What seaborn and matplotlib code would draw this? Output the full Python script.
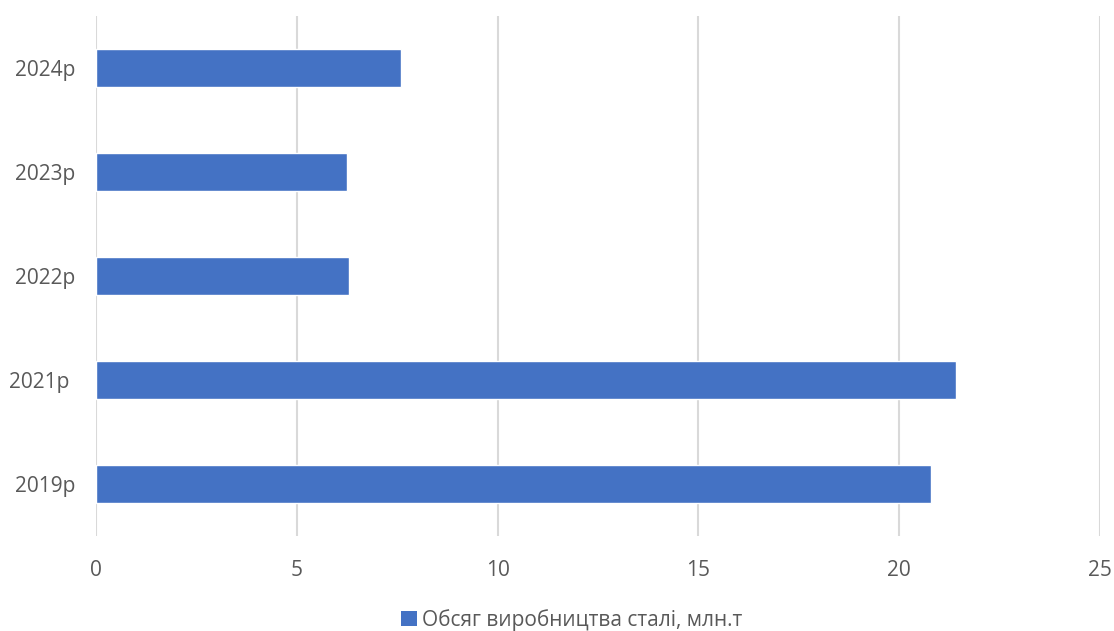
import matplotlib
matplotlib.use("Agg")
import matplotlib.pyplot as plt
import seaborn as sns
import pandas as pd
from matplotlib.patches import Patch

categories = ["2024р", "2023р", "2022р", "2021р ", "2019р"]
values = [7.6, 6.24, 6.31, 21.41, 20.8]
series_name = "Обсяг виробництва сталі, млн.т"
x_ticks = [0, 5, 10, 15, 20, 25]

sns.set_theme(style="white")
plt.rcParams['font.family'] = ['Open Sans', 'DejaVu Sans']

df = pd.DataFrame({"year": categories, "value": values})

fig = plt.figure(figsize=(11.14, 6.31), dpi=100)
ax = fig.add_axes([96/1114, 1 - 536/631, 1004/1114, 520/631])

sns.barplot(data=df, x="value", y="year", order=categories, orient="h",
            color="#4472C4", saturation=1, width=0.36, ax=ax, zorder=3)

ax.set_xlim(0, 25)
ax.set_xticks(x_ticks)
ax.set_xticklabels([str(t) for t in x_ticks])
ax.grid(axis="x", color="#d9d9d9", linewidth=1.5, zorder=0)
ax.grid(axis="y", visible=False)
for s in ax.spines.values():
    s.set_visible(False)
ax.set_xlabel("")
ax.set_ylabel("")
ax.tick_params(axis="both", length=0, labelsize=15, labelcolor="#595959")
ax.tick_params(axis="x", pad=17)
ax.tick_params(axis="y", pad=15)

handles = [Patch(facecolor="#4472C4", edgecolor="none")]
fig.legend(handles, [series_name], loc="center", bbox_to_anchor=(572/1114, 1 - 620/631),
           frameon=False, fontsize=15, labelcolor="#595959",
           handlelength=0.75, handleheight=0.75, handletextpad=0.25)

fig.savefig("out.png", dpi=100)
